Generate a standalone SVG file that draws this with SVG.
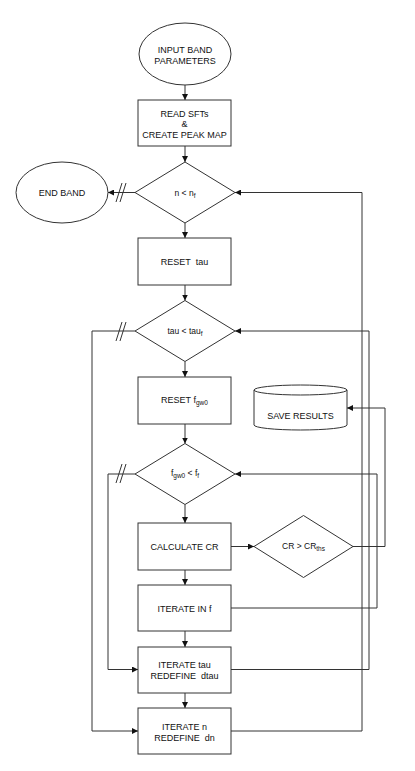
<svg xmlns="http://www.w3.org/2000/svg" width="415" height="771" viewBox="0 0 415 771">
<defs>
<marker id="arr" markerUnits="userSpaceOnUse" markerWidth="7" markerHeight="6" refX="6" refY="3" orient="auto">
<path d="M0,0 L6,3 L0,6 Z" fill="#111"/>
</marker>
<style>
.s{fill:#fff;stroke:#333;stroke-width:1}
.c{fill:none;stroke:#333;stroke-width:1}
.t{font-family:"Liberation Sans",Arial,sans-serif;font-size:9px;fill:#111;text-anchor:middle;white-space:pre}
.d{font-size:8.5px}
.sub{font-size:6.5px}
</style>
</defs>
<rect width="415" height="771" fill="#fff"/>
<g id="connectors">
<path class="c" d="M185,85 V100" marker-end="url(#arr)"/>
<path class="c" d="M185,146 V162" marker-end="url(#arr)"/>
<path class="c" d="M185,223 V238" marker-end="url(#arr)"/>
<path class="c" d="M185,285 V300.5" marker-end="url(#arr)"/>
<path class="c" d="M185,361.5 V377" marker-end="url(#arr)"/>
<path class="c" d="M185,424 V443.5" marker-end="url(#arr)"/>
<path class="c" d="M185,504.5 V523" marker-end="url(#arr)"/>
<path class="c" d="M185,570 V585" marker-end="url(#arr)"/>
<path class="c" d="M185,631 V647" marker-end="url(#arr)"/>
<path class="c" d="M185,693 V708" marker-end="url(#arr)"/>
<path class="c" d="M135,192.5 H108" marker-end="url(#arr)"/>
<path class="c" d="M116,202 L122,183 M120,202 L126,183"/>
<path class="c" d="M135,331 H92 V731 H138" marker-end="url(#arr)"/>
<path class="c" d="M116,341 L122,322 M120,341 L126,322"/>
<path class="c" d="M135,474 H108 V669.5 H138" marker-end="url(#arr)"/>
<path class="c" d="M116,483 L122,464 M120,483 L126,464"/>
<path class="c" d="M231,546.5 H254" marker-end="url(#arr)"/>
<path class="c" d="M353,546.5 H385 V408 H347" marker-end="url(#arr)"/>
<path class="c" d="M231,608 H377 V474 H235" marker-end="url(#arr)"/>
<path class="c" d="M231,669.5 H369 V331 H235" marker-end="url(#arr)"/>
<path class="c" d="M231,731 H362 V192.5 H235" marker-end="url(#arr)"/>
</g>
<g id="input">
<ellipse class="s" cx="185" cy="54" rx="46" ry="31"/>
<text class="t" x="185" y="53">INPUT BAND</text>
<text class="t" x="185" y="64">PARAMETERS</text>
</g>
<g id="read">
<rect class="s" x="138" y="100" width="93" height="46"/>
<text class="t" x="184.5" y="116.5">READ SFTs</text>
<text class="t" x="184.5" y="127">&amp;</text>
<text class="t" x="184.5" y="138">CREATE PEAK MAP</text>
</g>
<g id="endband">
<ellipse class="s" cx="62" cy="192.5" rx="46" ry="30.5"/>
<text class="t" x="62" y="196">END BAND</text>
</g>
<g id="cond-n">
<polygon class="s" points="185,162 235,192.5 185,223 135,192.5"/>
<text class="t d" x="185" y="195.5">n &lt; n<tspan class="sub" dy="2">f</tspan></text>
</g>
<g id="reset-tau">
<rect class="s" x="138" y="238" width="93" height="47"/>
<text class="t" x="184.5" y="265">RESET  tau</text>
</g>
<g id="cond-tau">
<polygon class="s" points="185,300.5 235,331 185,361.5 135,331"/>
<text class="t d" x="185" y="334">tau &lt; tau<tspan class="sub" dy="2">f</tspan></text>
</g>
<g id="reset-f">
<rect class="s" x="138" y="377" width="93" height="47"/>
<text class="t" x="184.5" y="403">RESET f<tspan class="sub" dy="2">gw0</tspan></text>
</g>
<g id="save">
<path class="s" d="M254,390 V425 A46.5,5 0 0 0 347,425 V390 A46.5,5 0 0 0 254,390 Z"/>
<path class="c" d="M254,390 A46.5,5 0 0 0 347,390"/>
<text class="t" x="300.5" y="419">SAVE RESULTS</text>
</g>
<g id="cond-f">
<polygon class="s" points="185,443.5 235,474 185,504.5 135,474"/>
<text class="t d" x="185" y="476">f<tspan class="sub" dy="2">gw0</tspan><tspan dy="-2"> &lt; f</tspan><tspan class="sub" dy="2">f</tspan></text>
</g>
<g id="calc">
<rect class="s" x="138" y="523" width="93" height="47"/>
<text class="t" x="184.5" y="550">CALCULATE CR</text>
</g>
<g id="cond-cr">
<polygon class="s" points="303.5,515.5 353,546.5 303.5,577.5 254,546.5"/>
<text class="t d" x="303.5" y="549">CR &gt; CR<tspan class="sub" dy="2">ths</tspan></text>
</g>
<g id="iter-f">
<rect class="s" x="138" y="585" width="93" height="46"/>
<text class="t" x="184.5" y="611.5">ITERATE IN f</text>
</g>
<g id="iter-tau">
<rect class="s" x="138" y="647" width="93" height="46"/>
<text class="t" x="184.5" y="668">ITERATE tau</text>
<text class="t" x="184.5" y="679">REDEFINE  dtau</text>
</g>
<g id="iter-n">
<rect class="s" x="138" y="708" width="93" height="46"/>
<text class="t" x="184.5" y="730">ITERATE n</text>
<text class="t" x="184.5" y="740.5">REDEFINE  dn</text>
</g>
</svg>
